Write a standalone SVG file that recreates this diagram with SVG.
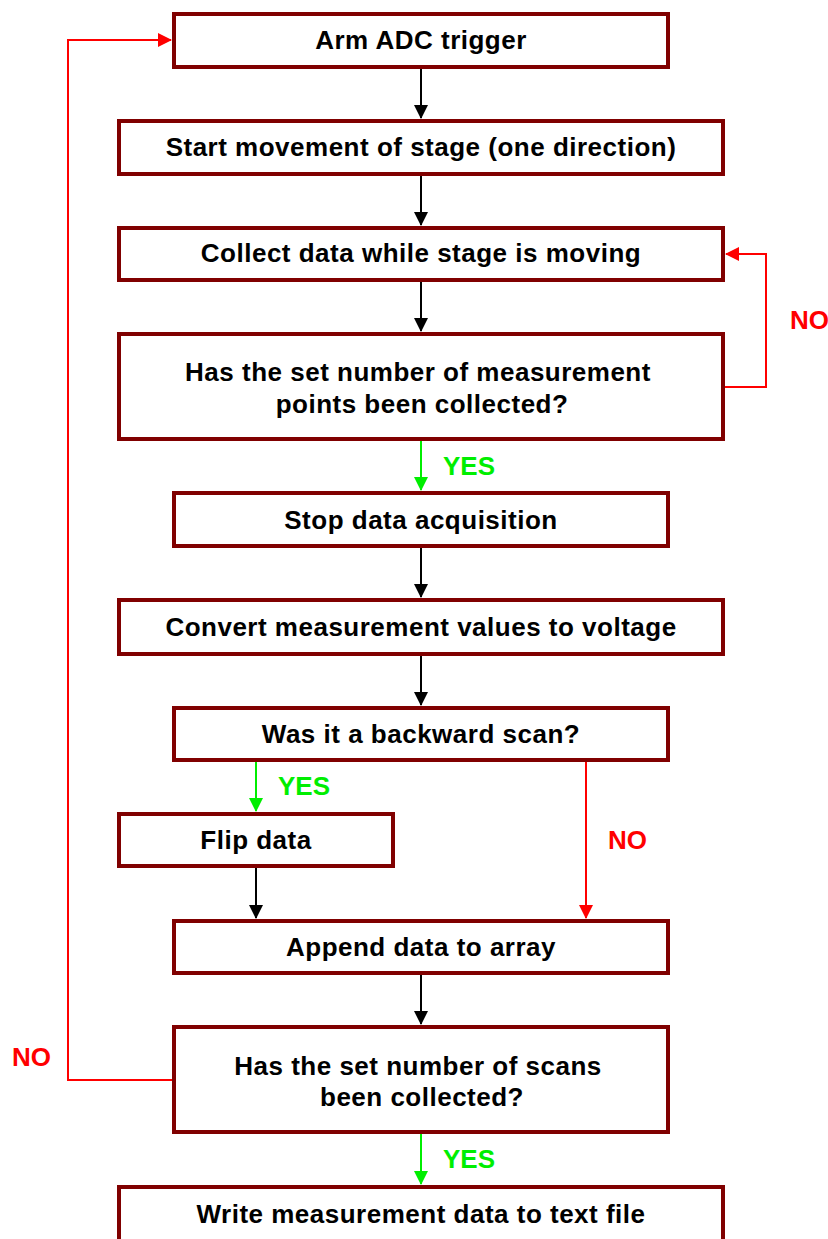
<svg xmlns="http://www.w3.org/2000/svg" width="828" height="1239" viewBox="0 0 828 1239">
  <style>
    .box { fill: #ffffff; stroke: #800000; stroke-width: 4; }
    .lbl { font-family: "Liberation Sans", Arial, sans-serif; font-weight: bold; font-size: 26px; letter-spacing: 0.5px; fill: #000000; text-anchor: middle; }
    .yes { font-family: "Liberation Sans", Arial, sans-serif; font-weight: bold; font-size: 26px; fill: #00ee00; }
    .no { font-family: "Liberation Sans", Arial, sans-serif; font-weight: bold; font-size: 26px; fill: #ff0000; }
    .blk { fill: none; stroke: #000000; stroke-width: 2; }
    .grn { fill: none; stroke: #00ee00; stroke-width: 2; }
    .red { fill: none; stroke: #ff0000; stroke-width: 2; }
  </style>
  <defs>
    <marker id="ahBlack" markerWidth="14" markerHeight="14" viewBox="0 0 14 14" refX="13" refY="7" orient="auto" markerUnits="userSpaceOnUse">
      <path d="M0,0 L14,7 L0,14 Z" fill="#000000"/>
    </marker>
    <marker id="ahGreen" markerWidth="14" markerHeight="14" viewBox="0 0 14 14" refX="13" refY="7" orient="auto" markerUnits="userSpaceOnUse">
      <path d="M0,0 L14,7 L0,14 Z" fill="#00ee00"/>
    </marker>
    <marker id="ahRed" markerWidth="14" markerHeight="14" viewBox="0 0 14 14" refX="13" refY="7" orient="auto" markerUnits="userSpaceOnUse">
      <path d="M0,0 L14,7 L0,14 Z" fill="#ff0000"/>
    </marker>
  </defs>

  <g id="connectors">
    <line class="blk" x1="421" y1="69" x2="421" y2="118" marker-end="url(#ahBlack)"/>
    <line class="blk" x1="421" y1="176" x2="421" y2="225" marker-end="url(#ahBlack)"/>
    <line class="blk" x1="421" y1="282" x2="421" y2="331" marker-end="url(#ahBlack)"/>
    <polyline class="red" points="725,387 766,387 766,254 726,254" marker-end="url(#ahRed)"/>
    <text class="no" x="790" y="329">NO</text>
    <line class="grn" x1="421" y1="441" x2="421" y2="490" marker-end="url(#ahGreen)"/>
    <text class="yes" x="443" y="475">YES</text>
    <line class="blk" x1="421" y1="548" x2="421" y2="597" marker-end="url(#ahBlack)"/>
    <line class="blk" x1="421" y1="656" x2="421" y2="705" marker-end="url(#ahBlack)"/>
    <line class="grn" x1="256" y1="762" x2="256" y2="811" marker-end="url(#ahGreen)"/>
    <text class="yes" x="278" y="795">YES</text>
    <line class="red" x1="586" y1="762" x2="586" y2="918" marker-end="url(#ahRed)"/>
    <text class="no" x="608" y="849">NO</text>
    <line class="blk" x1="256" y1="868" x2="256" y2="918" marker-end="url(#ahBlack)"/>
    <line class="blk" x1="421" y1="975" x2="421" y2="1024" marker-end="url(#ahBlack)"/>
    <polyline class="red" points="172,1080 68,1080 68,40 171,40" marker-end="url(#ahRed)"/>
    <text class="no" x="12" y="1066">NO</text>
    <line class="grn" x1="421" y1="1134" x2="421" y2="1184" marker-end="url(#ahGreen)"/>
    <text class="yes" x="443" y="1168">YES</text>
  </g>

  <g id="arm-trigger">
    <rect class="box" x="174" y="14" width="494" height="53"/>
    <text class="lbl" x="421" y="49">Arm ADC trigger</text>
  </g>
  <g id="start-movement">
    <rect class="box" x="119" y="121" width="604" height="53"/>
    <text class="lbl" x="421" y="156">Start movement of stage (one direction)</text>
  </g>
  <g id="collect-data">
    <rect class="box" x="119" y="228" width="604" height="52"/>
    <text class="lbl" x="421" y="262">Collect data while stage is moving</text>
  </g>
  <g id="points-check">
    <rect class="box" x="119" y="334" width="604" height="105"/>
    <text class="lbl" x="418" y="381">Has the set number of measurement</text>
    <text class="lbl" x="422" y="413">points been collected?</text>
  </g>
  <g id="stop-acquisition">
    <rect class="box" x="174" y="493" width="494" height="53"/>
    <text class="lbl" x="421" y="529">Stop data acquisition</text>
  </g>
  <g id="convert-values">
    <rect class="box" x="119" y="600" width="604" height="54"/>
    <text class="lbl" x="421" y="636">Convert measurement values to voltage</text>
  </g>
  <g id="backward-check">
    <rect class="box" x="174" y="708" width="494" height="52"/>
    <text class="lbl" x="421" y="743">Was it a backward scan?</text>
  </g>
  <g id="flip-data">
    <rect class="box" x="119" y="814" width="274" height="52"/>
    <text class="lbl" x="256" y="849">Flip data</text>
  </g>
  <g id="append-data">
    <rect class="box" x="174" y="921" width="494" height="52"/>
    <text class="lbl" x="421" y="956">Append data to array</text>
  </g>
  <g id="scans-check">
    <rect class="box" x="174" y="1027" width="494" height="105"/>
    <text class="lbl" x="418" y="1075">Has the set number of scans</text>
    <text class="lbl" x="422" y="1106">been collected?</text>
  </g>
  <g id="write-file">
    <rect class="box" x="119" y="1187" width="604" height="60"/>
    <text class="lbl" x="421" y="1223">Write measurement data to text file</text>
  </g>
</svg>
